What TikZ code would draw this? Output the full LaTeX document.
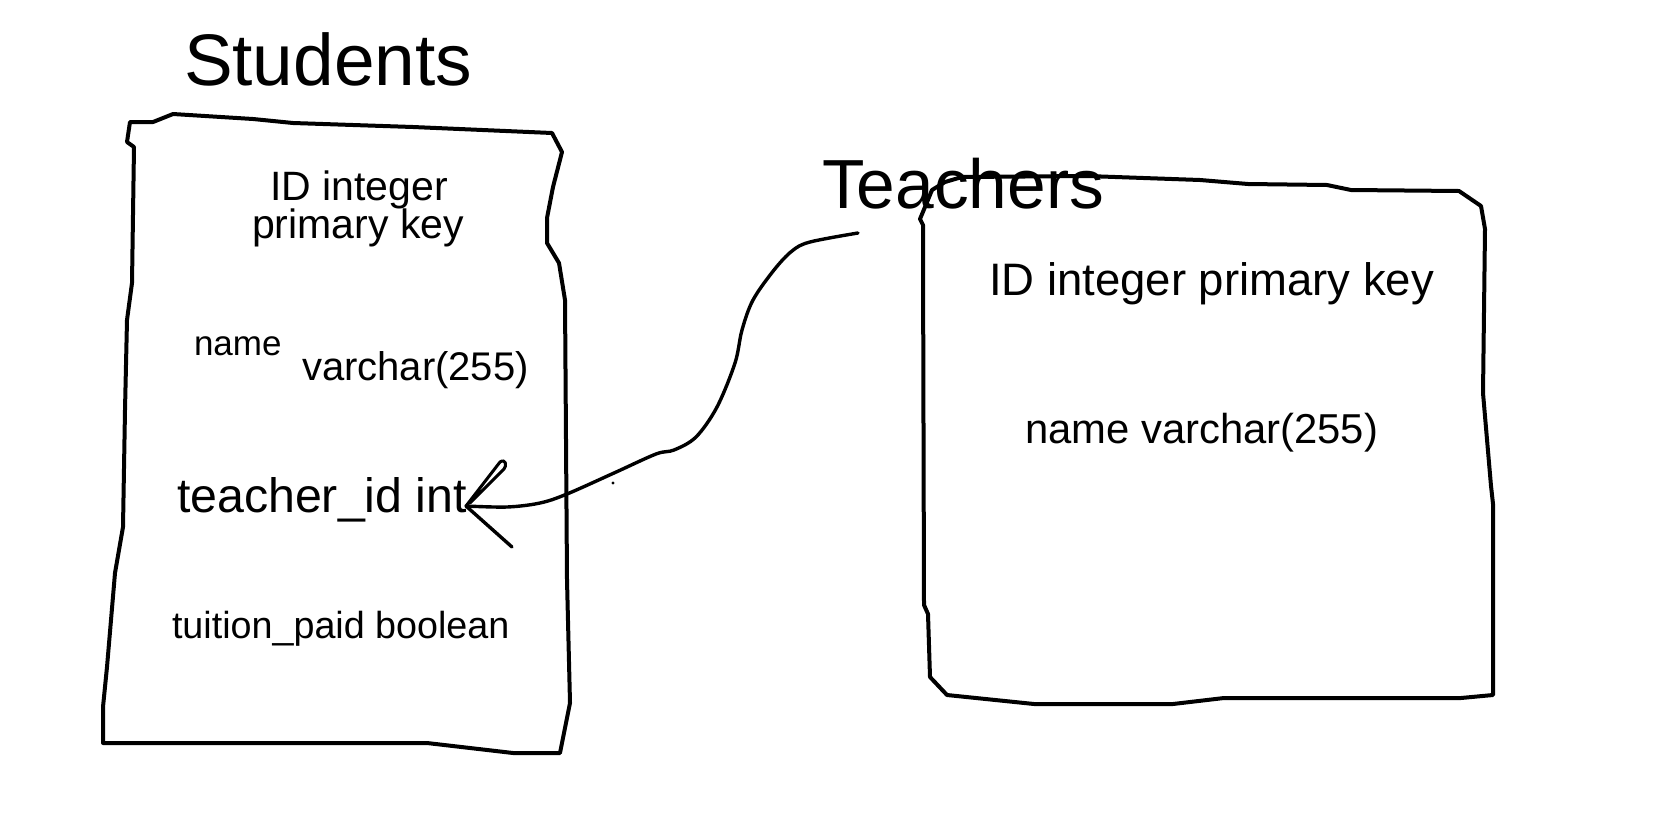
\documentclass[tikz,border=0pt]{standalone}
\usepackage{fontspec}
\setmainfont{Liberation Sans}
\tikzset{
  sketch/.style={draw=black, line width=4pt, line join=round, line cap=round},
  pen/.style={draw=black, line width=3.4pt, line join=round, line cap=round},
  lbl/.style={inner sep=0pt, outer sep=0pt, anchor=base west, text=black},
}
\newcommand{\fs}[1]{\fontsize{#1}{#1}\selectfont}
\begin{document}
\begin{tikzpicture}[x=1pt,y=-1pt]
\useasboundingbox (0,0) rectangle (1662,836);
\fill[white] (0,0) rectangle (1662,836);

% titles
\node[lbl] (stitle) at (184,85) {\fs{73}Students};
\node[lbl] (ttitle) at (822,208) {\fs{69.5}Teachers};

% Students fields
\node[lbl, anchor=base] (sid1) at (359,200) {\fs{41}ID integer};
\node[lbl, anchor=base] (sid2) at (358,238) {\fs{41}primary key};
\node[lbl] (sname1) at (194,355) {\fs{35}name};
\node[lbl] (sname2) at (302,380) {\fs{40}varchar(255)};
\node[lbl] (stid) at (177,512) {\fs{48.3}teacher\_id int};
\node[lbl] (stp) at (172,638) {\fs{37.7}tuition\_paid boolean};

% Teachers fields
\node[lbl] (tid) at (989,295) {\fs{45.5}ID integer primary key};
\node[lbl] (tname) at (1025,443) {\fs{41.8}name varchar(255)};

% Students box
\draw[sketch] (130,122) -- (153,122) -- (173,114) -- (253,119) -- (293,123) -- (413,127) -- (552,133)
  -- (562,152) -- (553,187) -- (547,218) -- (547,243) -- (559,263) -- (565,300) -- (567,580) -- (570,703) -- (560,753)
  -- (513,753) -- (427,743) -- (103,743)
  -- (103,707) -- (107,667) -- (115,573) -- (123,527) -- (125,410) -- (127,320) -- (132,283) -- (134,147) -- (127,142) -- cycle;

% Teachers box
\draw[sketch] (923,250) -- (923,225) -- (920,219) -- (925,207) -- (932,190) -- (945,182) -- (962,177) -- (1087,176)
  -- (1200,180) -- (1248,184) -- (1327,185) -- (1351,190) -- (1459,191) -- (1481,206) -- (1485,229)
  -- (1483,393) -- (1491,486) -- (1493,504) -- (1493,695)
  -- (1461,698) -- (1355,698) -- (1224,698) -- (1173,704) -- (1034,704) -- (947,695) -- (930,677)
  -- (928,614) -- (924,605) -- cycle;

% connector
\coordinate (src) at (858,233);
\coordinate (tip) at (466,506);
\draw[pen] plot[smooth, tension=0.55] coordinates {(src) (810,242) (792,251) (774,270) (753,300) (742,330) (735,363) (717,407) (696,437) (674,450) (656,454) (614,473) (567,494) (540,503) (507,507) (tip)};
% hand-drawn arrowhead
\draw[pen, line width=3pt] (tip) -- (500,462) .. controls (506,458) and (507,466) .. (504,469) -- (470,503);
\draw[pen] (tip) -- (512,547);
% stray dot
\fill[black] (613,483) circle (1.7);
\end{tikzpicture}
\end{document}
